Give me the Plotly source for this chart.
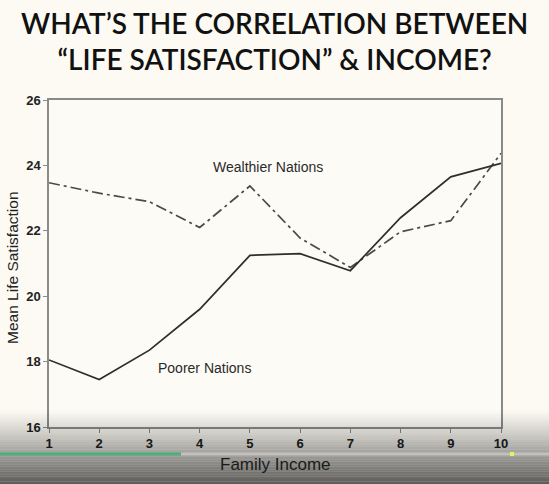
import plotly.graph_objects as go

income = [1, 2, 3, 4, 5, 6, 7, 8, 9, 10]
poorer = [18.05, 17.45, 18.35, 19.6, 21.25, 21.3, 20.78, 22.4, 23.65, 24.06]
wealthier = [23.47, 23.15, 22.89, 22.1, 23.37, 21.78, 20.88, 21.97, 22.31, 24.37]
y_ticks = [16, 18, 20, 22, 24, 26]

W, H = 549, 484
L, R, T, B = 49, 48, 100, 57
PW, PH = W - L - R, H - T - B

def px(x):
    return (x - L) / PW

def py(y):
    return (H - B - y) / PH

fig = go.Figure()
fig.add_trace(go.Scatter(x=income, y=wealthier, mode="lines",
                         line=dict(color="#4a4a4a", width=1.7, dash="11px,4px,3px,4px"),
                         showlegend=False, hoverinfo="skip"))
fig.add_trace(go.Scatter(x=income, y=poorer, mode="lines",
                         line=dict(color="#2e2e2e", width=1.7),
                         showlegend=False, hoverinfo="skip"))

shapes = []
# bottom video-player style gradient
n = 30
top_px, bot_px = 410, H
for i in range(n):
    p0 = top_px + (bot_px - top_px) * i / n
    p1 = top_px + (bot_px - top_px) * (i + 1) / n
    a = 0.64 * ((i + 0.5) / n) ** 1.1
    shapes.append(dict(type="rect", xref="paper", yref="paper",
                       x0=px(0), x1=px(W), y0=py(p1), y1=py(p0),
                       fillcolor=f"rgba(0,0,0,{a:.3f})", line=dict(width=0), layer="above"))
# progress bar
shapes.append(dict(type="line", xref="paper", yref="paper", x0=px(181), x1=px(W),
                   y0=py(454), y1=py(454), line=dict(color="rgba(200,200,200,0.8)", width=3), layer="above"))
shapes.append(dict(type="line", xref="paper", yref="paper", x0=px(0), x1=px(181),
                   y0=py(454), y1=py(454), line=dict(color="#4caf7d", width=3), layer="above"))
shapes.append(dict(type="rect", xref="paper", yref="paper", x0=px(510), x1=px(514),
                   y0=py(456), y1=py(452), fillcolor="#e8f05a", line=dict(width=0), layer="above"))

fig.update_layout(
    width=W, height=H,
    margin=dict(l=L, r=R, t=T, b=B),
    paper_bgcolor="#fcfaf3", plot_bgcolor="#fdfbf6",
    shapes=shapes,
    font=dict(family="Liberation Sans, Arial", color="#2a2a2a"),
    annotations=[
        dict(text="WHAT’S THE CORRELATION BETWEEN<br>“LIFE SATISFACTION” &amp; INCOME?",
             xref="paper", yref="paper", x=px(W / 2), y=py(41), xanchor="center", yanchor="middle",
             showarrow=False, font=dict(family="Lato", size=28, color="#111111", weight=600),
             align="center"),
        dict(text="Wealthier Nations", x=5.36, y=23.95, showarrow=False,
             font=dict(size=14, color="#2a2a2a")),
        dict(text="Poorer Nations", x=4.1, y=17.8, showarrow=False,
             font=dict(size=14, color="#2a2a2a")),
        dict(text="Family Income", xref="paper", yref="paper", x=px(275), y=py(464),
             xanchor="center", yanchor="middle",
             showarrow=False, font=dict(size=17, color="#1a1a1a")),
        dict(text="Mean Life Satisfaction", xref="paper", yref="paper", x=px(12), y=py(268),
             xanchor="center", yanchor="middle", textangle=-90,
             showarrow=False, font=dict(size=15.5, color="#222")),
    ],
)
fig.update_xaxes(range=[1, 10], tickvals=income, ticktext=[str(v) for v in income],
                 showgrid=False, zeroline=False, showline=True, mirror=True, automargin=False,
                 linecolor="#8a8a8a", linewidth=1.5, ticks="outside", ticklen=4,
                 tickcolor="#8a8a8a", tickfont=dict(size=13, color="#222", weight="bold"))
fig.update_yaxes(range=[16, 26], tickvals=y_ticks,
                 showgrid=False, zeroline=False, showline=True, mirror=True, automargin=False,
                 linecolor="#8a8a8a", linewidth=1.5, ticks="outside", ticklen=4,
                 tickcolor="#8a8a8a", tickfont=dict(size=13, color="#222", weight="bold"))

fig.write_html("out.html")
